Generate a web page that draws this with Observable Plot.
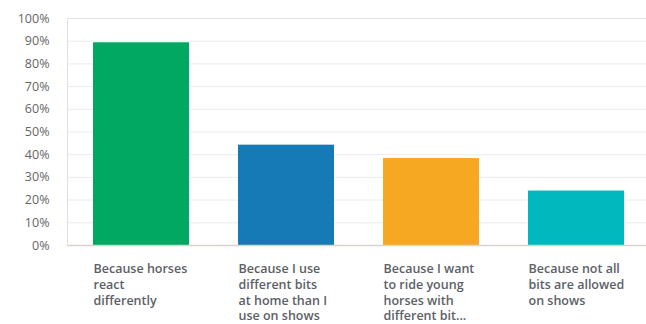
<!DOCTYPE html>
<html>
<head>
<meta charset="utf-8">
<script src="https://cdn.jsdelivr.net/npm/d3@7"></script>
<script src="https://cdn.jsdelivr.net/npm/@observablehq/plot@0.6"></script>
<style>
  html, body { margin: 0; padding: 0; background: #fff; }
  #chart svg { display: block; }
</style>
</head>
<body>
<div id="chart"></div>
<script>
const categories = [
  "Because horses\nreact\ndifferently",
  "Because I use\ndifferent bits\nat home than I\nuse on shows",
  "Because I want\nto ride young\nhorses with\ndifferent bit...",
  "Because not all\nbits are allowed\non shows"
];
const values = [89.3, 44.2, 38.3, 24.0];
const colors = ["#00a862", "#167ab6", "#f7a823", "#00b8be"];
const yTicks = [0, 10, 20, 30, 40, 50, 60, 70, 80, 90, 100];

const data = categories.map((c, i) => ({category: c, value: values[i], color: colors[i]}));

const chart = Plot.plot({
  width: 646,
  height: 324,
  marginTop: 18,
  marginBottom: 79,
  marginLeft: 67,
  marginRight: -3,
  style: {fontFamily: "'Open Sans', sans-serif", fontSize: "12.5px", color: "#666", background: "#fff"},
  x: {domain: categories, paddingInner: 0.34, paddingOuter: 0.17, axis: null},
  y: {domain: [0, 100], ticks: yTicks, tickFormat: d => d + "%", label: null, tickSize: 0, tickPadding: 18},
  marks: [
    Plot.ruleY(yTicks.slice(1), {stroke: "#ececec", strokeWidth: 1}),
    Plot.frame({stroke: "#e3dfdb"}),
    Plot.barY(data, {x: "category", y: "value", fill: "color"}),
    Plot.ruleY([0], {stroke: "#d9d3cd", strokeWidth: 1.5}),
    Plot.text(data, {
      x: "category", y: 0, text: "category",
      textAnchor: "start", lineAnchor: "top", dy: 16, dx: -48,
      lineHeight: 1.27, fill: "#5c6168", fontWeight: 600, fontSize: 12.5
    })
  ]
});
document.getElementById("chart").appendChild(chart);
</script>
</body>
</html>
